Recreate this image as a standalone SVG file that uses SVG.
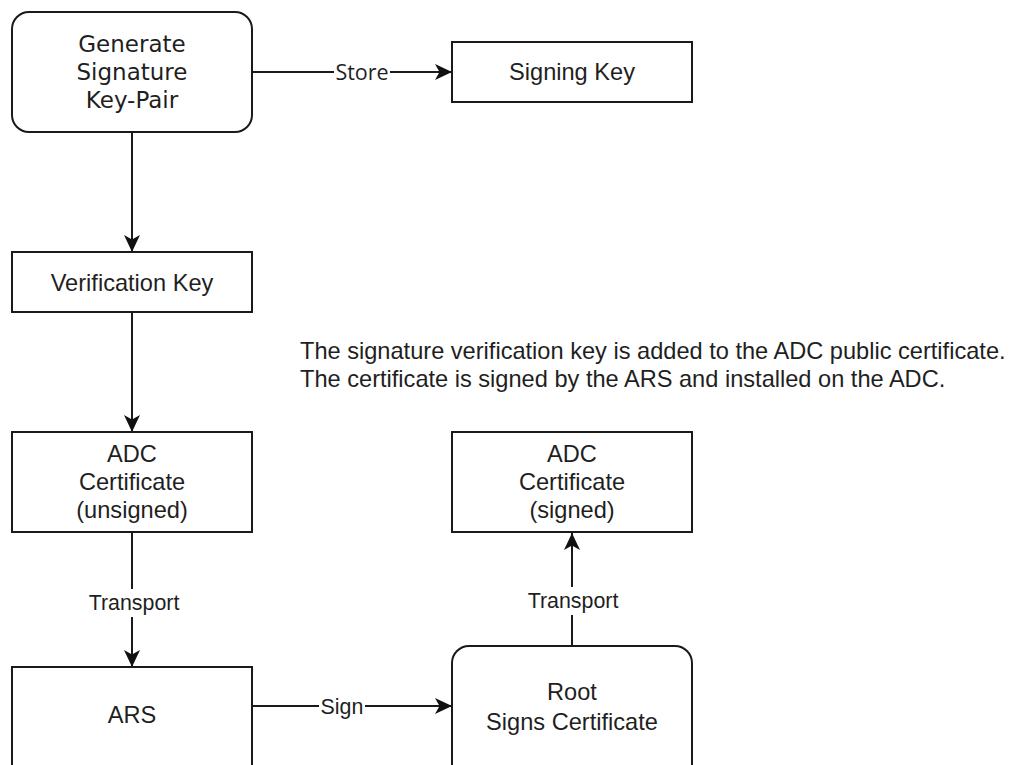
<svg xmlns="http://www.w3.org/2000/svg" width="1014" height="765" viewBox="0 0 1014 765">
  <style>
    .box { fill: #ffffff; stroke: #1a1a1a; stroke-width: 2; }
    .txt { font-family: "Liberation Sans", Arial, sans-serif; font-size: 23.6px; fill: #1f1f1f; text-anchor: middle; }
    .alt { font-family: "DejaVu Sans", Verdana, sans-serif; font-size: 23px; fill: #1f1f1f; text-anchor: middle; }
    .lbl { font-family: "Liberation Sans", Arial, sans-serif; font-size: 21.4px; fill: #1f1f1f; text-anchor: middle; }
    .lbl-alt { font-family: "Open Sans", "DejaVu Sans", sans-serif; font-size: 21.5px; fill: #1f1f1f; text-anchor: middle; }
    .note { font-family: "Liberation Sans", Arial, sans-serif; font-size: 23.6px; fill: #1f1f1f; }
    .edge { fill: none; stroke: #1a1a1a; stroke-width: 2; }
    .lblbg { fill: #ffffff; }
  </style>
  <defs>
    <marker id="arrow" markerUnits="userSpaceOnUse" markerWidth="17" markerHeight="16" refX="17" refY="8" orient="auto">
      <path d="M0,0 L17,8 L0,16 L4.5,8 Z" fill="#111111"/>
    </marker>
  </defs>

  <rect width="1014" height="765" fill="#ffffff"/>

  <!-- connectors -->
  <g id="connectors">
    <path class="edge" d="M252,72 L452,72" marker-end="url(#arrow)"/>
    <rect class="lblbg" x="334" y="59" width="56" height="26"/>
    <text class="lbl-alt" x="362" y="80">Store</text>

    <path class="edge" d="M132,132 L132,252" marker-end="url(#arrow)"/>
    <path class="edge" d="M132,312 L132,432" marker-end="url(#arrow)"/>

    <path class="edge" d="M132,532 L132,667" marker-end="url(#arrow)"/>
    <rect class="lblbg" x="86" y="589" width="96" height="28"/>
    <text class="lbl" x="134" y="610">Transport</text>

    <path class="edge" d="M252,706 L452,706" marker-end="url(#arrow)"/>
    <rect class="lblbg" x="319" y="694" width="46" height="26"/>
    <text class="lbl" x="342" y="714">Sign</text>

    <path class="edge" d="M572,646 L572,533" marker-end="url(#arrow)"/>
    <rect class="lblbg" x="524" y="587" width="96" height="28"/>
    <text class="lbl" x="573" y="608">Transport</text>
  </g>

  <!-- nodes -->
  <g id="generate">
    <rect class="box" x="12" y="12" width="240" height="120" rx="17" ry="17"/>
    <text class="alt" x="132" y="52">Generate</text>
    <text class="alt" x="132" y="80">Signature</text>
    <text class="alt" x="132" y="108">Key-Pair</text>
  </g>

  <g id="signing-key">
    <rect class="box" x="452" y="42" width="240" height="60"/>
    <text class="txt" x="572" y="80">Signing Key</text>
  </g>

  <g id="verification-key">
    <rect class="box" x="12" y="252" width="240" height="60"/>
    <text class="txt" x="132" y="291">Verification Key</text>
  </g>

  <g id="note">
    <text class="note" x="300" y="359">The signature verification key is added to the ADC public certificate.</text>
    <text class="note" x="300" y="387">The certificate is signed by the ARS and installed on the ADC.</text>
  </g>

  <g id="adc-unsigned">
    <rect class="box" x="12" y="432" width="240" height="100"/>
    <text class="txt" x="132" y="462">ADC</text>
    <text class="txt" x="132" y="490">Certificate</text>
    <text class="txt" x="132" y="518">(unsigned)</text>
  </g>

  <g id="adc-signed">
    <rect class="box" x="452" y="432" width="240" height="100"/>
    <text class="txt" x="572" y="462">ADC</text>
    <text class="txt" x="572" y="490">Certificate</text>
    <text class="txt" x="572" y="518">(signed)</text>
  </g>

  <g id="ars">
    <rect class="box" x="12" y="667" width="240" height="120"/>
    <text class="txt" x="132" y="723">ARS</text>
  </g>

  <g id="root">
    <rect class="box" x="452" y="646" width="240" height="140" rx="17" ry="17"/>
    <text class="txt" x="572" y="700">Root</text>
    <text class="txt" x="572" y="730">Signs Certificate</text>
  </g>
</svg>
